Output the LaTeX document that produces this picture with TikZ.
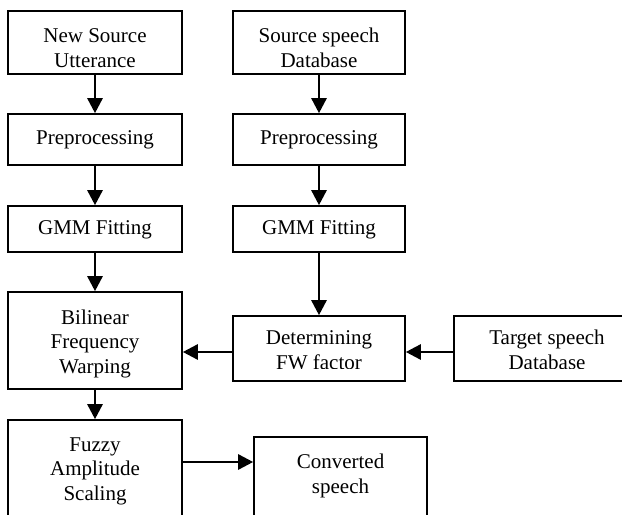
\documentclass[tikz,border=0pt]{standalone}
\usepackage{fontspec}
\setmainfont{Liberation Serif}
\usetikzlibrary{arrows.meta}
\begin{document}
\begin{tikzpicture}[x=1bp,y=-1bp,
  box/.style={draw=black, line width=1.6bp, inner sep=0pt},
  lbl/.style={inner sep=0pt, align=center, font=\fontsize{21bp}{24.5bp}\selectfont},
  arr/.style={line width=2.6bp, -{Triangle[length=15bp,width=15bp]}}]
\useasboundingbox (0,0) rectangle (622,515);
\clip (0,0) rectangle (622,515);
\fill[white] (0,0) rectangle (622,515);
% left column boxes
\node[box, minimum width=174bp, minimum height=63bp] (nsu) at (95,42.5) {};
\node[box, minimum width=174bp, minimum height=51bp] (prel) at (95,139.5) {};
\node[box, minimum width=174bp, minimum height=46bp] (gmml) at (95,229) {};
\node[box, minimum width=174bp, minimum height=97bp] (bfw) at (95,340.5) {};
\node[box, minimum width=174bp, minimum height=98bp] (fas) at (95,469) {};
% right column boxes
\node[box, minimum width=172bp, minimum height=63bp] (ssd) at (319,42.5) {};
\node[box, minimum width=172bp, minimum height=51bp] (prer) at (319,139.5) {};
\node[box, minimum width=172bp, minimum height=46bp] (gmmr) at (319,229) {};
\node[box, minimum width=172bp, minimum height=65bp] (dfw) at (319,348.5) {};
\node[box, minimum width=186bp, minimum height=65bp] (tsd) at (547,348.5) {};
\node[box, minimum width=173bp, minimum height=86bp] (cs) at (340.5,480) {};
% texts
\node[lbl] (nsuT) at (95,48) {New Source\\Utterance};
\node[lbl] (prelT) at (95,139.5) {Preprocessing};
\node[lbl] (gmmlT) at (95,230) {GMM Fitting};
\node[lbl] (bfwT) at (95,343.5) {Bilinear\\Frequency\\Warping};
\node[lbl] (fasT) at (95,471) {Fuzzy\\Amplitude\\Scaling};
\node[lbl] (ssdT) at (319,48) {Source speech\\Database};
\node[lbl] (prerT) at (319,139.5) {Preprocessing};
\node[lbl] (gmmrT) at (319,230) {GMM Fitting};
\node[lbl] (csT) at (340.5,476) {Converted\\speech};
\begin{scope}
\clip (233,316) rectangle (405,368.5);
\node[lbl] (dfwT) at (319,350) {Determining\\FW factor};
\end{scope}
\begin{scope}
\clip (454,316) rectangle (622,368.5);
\node[lbl] (tsdT) at (547,350) {Target speech\\Database};
\end{scope}
% connectors
\draw[arr] (nsu) -- (prel);
\draw[arr] (prel) -- (gmml);
\draw[arr] (gmml) -- (bfw);
\draw[arr] (bfw) -- (fas);
\draw[arr] (ssd) -- (prer);
\draw[arr] (prer) -- (gmmr);
\draw[arr] (gmmr) -- (dfw);
\draw[arr] ([yshift=-3.5bp]dfw.west) -- ([yshift=-3.5bp]dfw.west -| bfw.east);
\draw[arr] ([yshift=-3.5bp]tsd.west) -- ([yshift=-3.5bp]dfw.east);
\draw[arr] ([yshift=7bp]fas.east) -- ([yshift=7bp]fas.east -| cs.west);
\end{tikzpicture}
\end{document}
